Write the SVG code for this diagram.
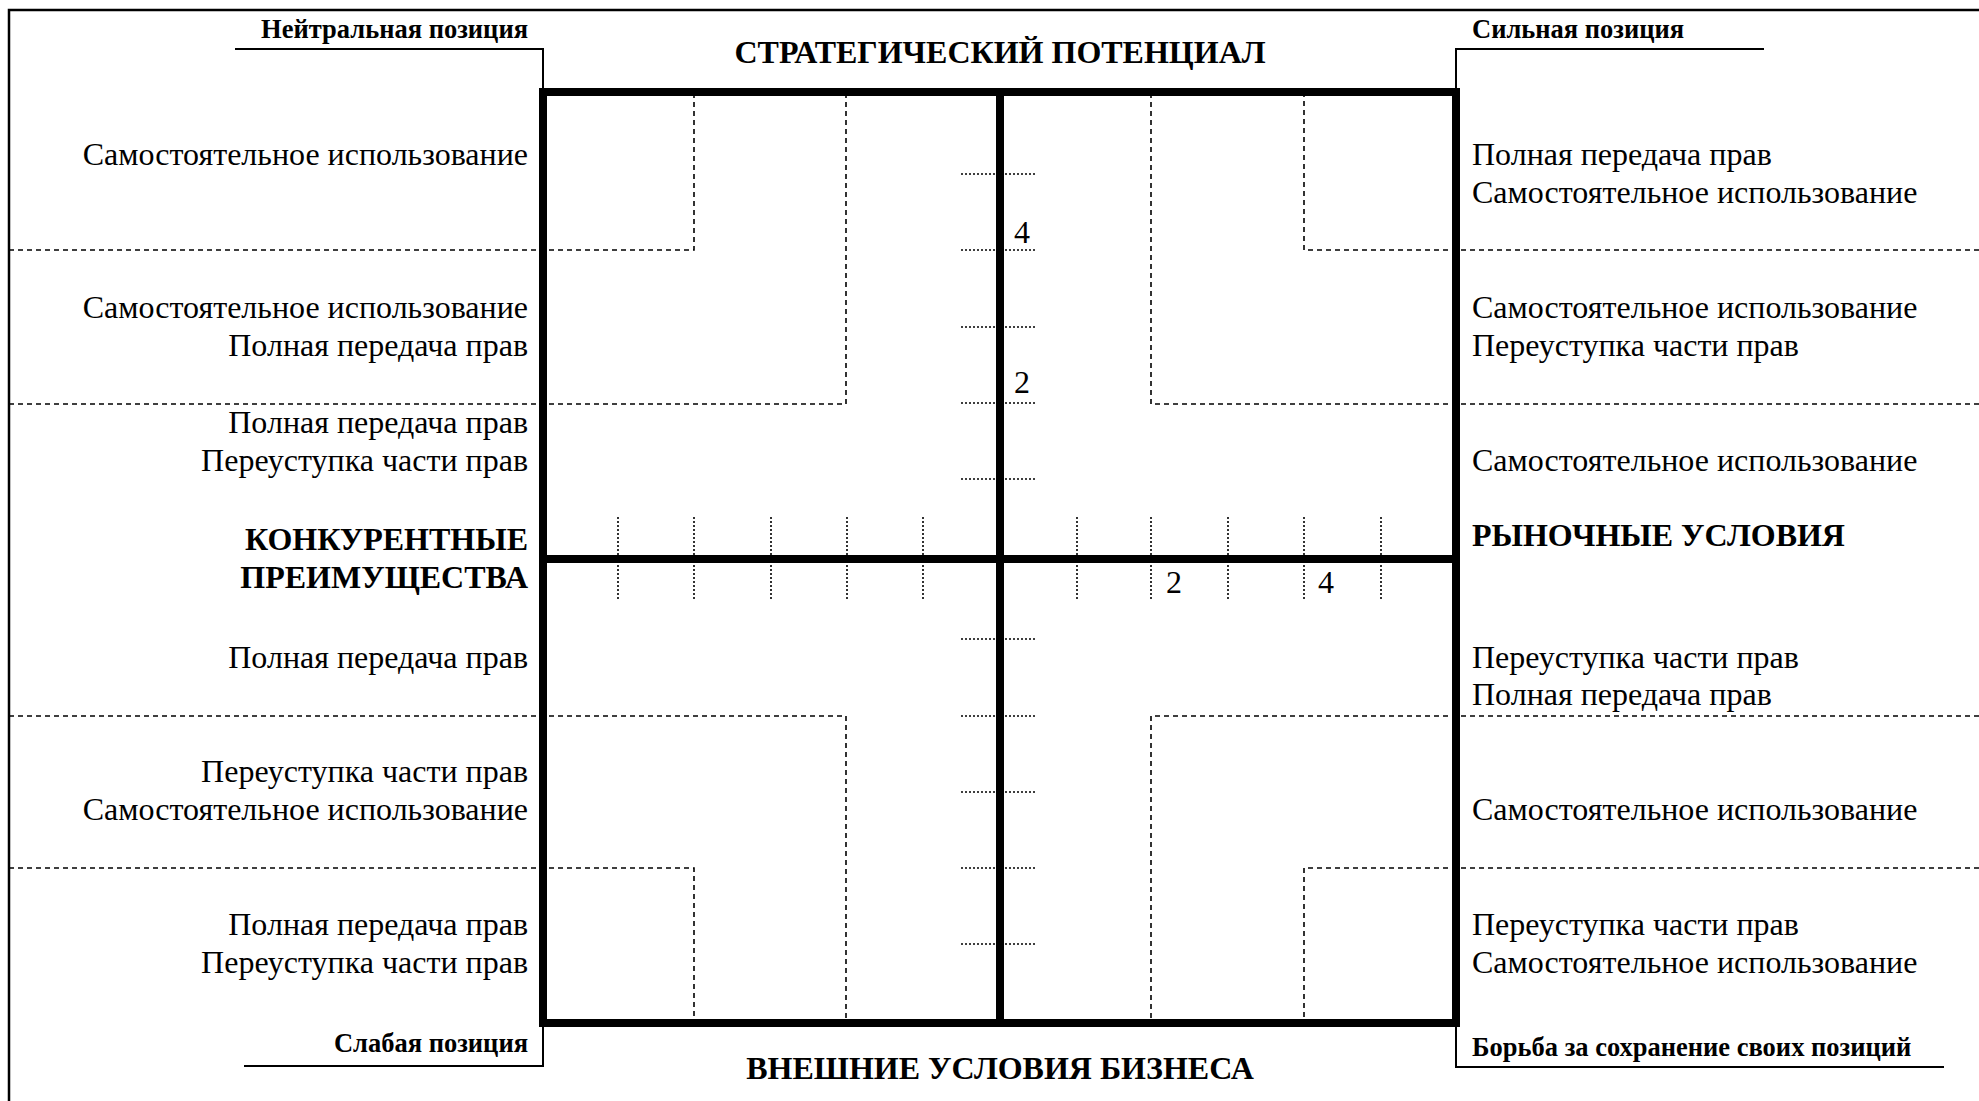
<svg xmlns="http://www.w3.org/2000/svg" width="1979" height="1101" viewBox="0 0 1979 1101">
<style>
.bg{fill:#fff}
.frame{fill:none;stroke:#000;stroke-width:2.5}
.thick{fill:none;stroke:#000;stroke-width:8}
.thin{fill:none;stroke:#000;stroke-width:2}
.dash{fill:none;stroke:#000;stroke-width:1.6;stroke-dasharray:5,4}
.tick{fill:none;stroke:#000;stroke-width:1.6;stroke-dasharray:2,2}
text{font-family:"Liberation Serif","Times New Roman",serif;fill:#000}
.t{font-size:32px}
.b{font-size:32px;font-weight:bold}
.s{font-size:26.5px;font-weight:bold}
.r{text-anchor:end}
.m{text-anchor:middle}
</style>
<rect class="bg" x="0" y="0" width="1979" height="1101"/>
<g id="frame">
<path class="frame" d="M9,1101 V10 H1979"/>
</g>
<g id="connectors">
<path class="dash" d="M9,250 H694 V92"/>
<path class="dash" d="M9,404 H846 V92"/>
<path class="dash" d="M1979,250 H1304 V92"/>
<path class="dash" d="M1979,404 H1151 V92"/>
<path class="dash" d="M9,716 H846 V1023"/>
<path class="dash" d="M9,868 H694 V1023"/>
<path class="dash" d="M1979,716 H1151 V1023"/>
<path class="dash" d="M1979,868 H1304 V1023"/>
<g id="ticks-x">
<path class="tick" d="M618,517 V601 M694,517 V601 M771,517 V601 M847,517 V601 M923,517 V601 M1077,517 V601 M1151,517 V601 M1228,517 V601 M1304,517 V601 M1381,517 V601"/>
</g>
<g id="ticks-y">
<path class="tick" d="M961,174 H1037 M961,250 H1037 M961,327 H1037 M961,403 H1037 M961,479 H1037 M961,639 H1037 M961,716 H1037 M961,792 H1037 M961,868 H1037 M961,944 H1037"/>
</g>
<path class="thin" d="M235,49 H543 V92"/>
<path class="thin" d="M1456,92 V49 H1764"/>
<path class="thin" d="M244,1066 H543 V1023"/>
<path class="thin" d="M1456,1023 V1067 H1944"/>
</g>
<g id="matrix">
<rect class="thick" x="543" y="92" width="913" height="931"/>
<path class="thick" d="M1000,92 V1023 M543,559 H1456"/>
</g>
<g id="axis-labels">
<text class="t m" x="1022" y="243">4</text>
<text class="t m" x="1022" y="393">2</text>
<text class="t m" x="1174" y="593">2</text>
<text class="t m" x="1326" y="593">4</text>
</g>
<g id="title-top"><text class="b m" x="1000" y="63">СТРАТЕГИЧЕСКИЙ ПОТЕНЦИАЛ</text></g>
<g id="title-bottom"><text class="b m" x="1000" y="1079">ВНЕШНИЕ УСЛОВИЯ БИЗНЕСА</text></g>
<g id="title-left"><text class="b r" x="528" y="550">КОНКУРЕНТНЫЕ</text><text class="b r" x="528" y="588">ПРЕИМУЩЕСТВА</text></g>
<g id="title-right"><text class="b" x="1472" y="546">РЫНОЧНЫЕ УСЛОВИЯ</text></g>
<g id="corner-tl"><text class="s r" x="528" y="38">Нейтральная позиция</text></g>
<g id="corner-tr"><text class="s" x="1472" y="38">Сильная позиция</text></g>
<g id="corner-bl"><text class="s r" x="528" y="1052">Слабая позиция</text></g>
<g id="corner-br"><text class="s" x="1472" y="1056">Борьба за сохранение своих позиций</text></g>
<g id="left-1"><text class="t r" x="528" y="165">Самостоятельное использование</text></g>
<g id="left-2"><text class="t r" x="528" y="318">Самостоятельное использование</text><text class="t r" x="528" y="356">Полная передача прав</text></g>
<g id="left-3"><text class="t r" x="528" y="433">Полная передача прав</text><text class="t r" x="528" y="471">Переуступка части прав</text></g>
<g id="left-4"><text class="t r" x="528" y="668">Полная передача прав</text></g>
<g id="left-5"><text class="t r" x="528" y="782">Переуступка части прав</text><text class="t r" x="528" y="820">Самостоятельное использование</text></g>
<g id="left-6"><text class="t r" x="528" y="935">Полная передача прав</text><text class="t r" x="528" y="973">Переуступка части прав</text></g>
<g id="right-1"><text class="t" x="1472" y="165">Полная передача прав</text><text class="t" x="1472" y="203">Самостоятельное использование</text></g>
<g id="right-2"><text class="t" x="1472" y="318">Самостоятельное использование</text><text class="t" x="1472" y="356">Переуступка части прав</text></g>
<g id="right-3"><text class="t" x="1472" y="471">Самостоятельное использование</text></g>
<g id="right-4"><text class="t" x="1472" y="668">Переуступка части прав</text><text class="t" x="1472" y="705">Полная передача прав</text></g>
<g id="right-5"><text class="t" x="1472" y="820">Самостоятельное использование</text></g>
<g id="right-6"><text class="t" x="1472" y="935">Переуступка части прав</text><text class="t" x="1472" y="973">Самостоятельное использование</text></g>
</svg>
